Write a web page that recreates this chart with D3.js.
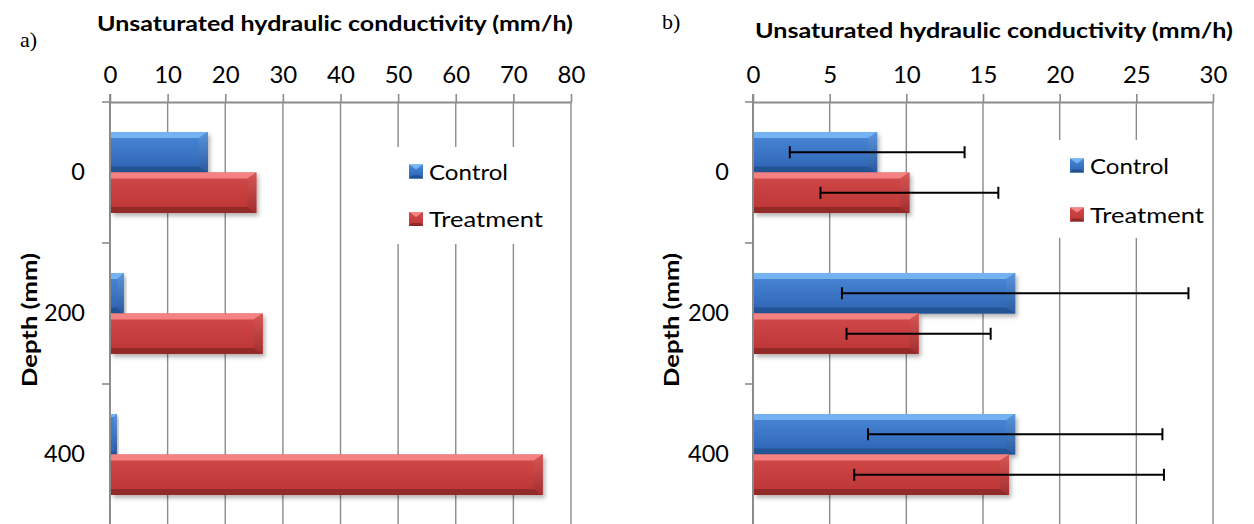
<!DOCTYPE html>
<html>
<head>
<meta charset="utf-8">
<script src="https://cdn.jsdelivr.net/npm/d3@7"></script>
<style>
  html, body { margin: 0; padding: 0; background: #ffffff; }
  svg { display: block; }
</style>
</head>
<body>
<svg id="chart" width="1254" height="524"></svg>
<script>
// ---------------- data ----------------
const categories = ["0", "200", "400"];
const seriesNames = ["Control", "Treatment"];
const aControl = [17.0, 2.4, 1.2];
const aTreatment = [25.4, 26.5, 75.1];
const bControl = [8.1, 17.1, 17.1];
const bTreatment = [10.2, 10.8, 16.7];
const bControlErr = [5.7, 11.3, 9.6];
const bTreatmentErr = [5.8, 4.7, 10.1];
const aTicks = [0, 10, 20, 30, 40, 50, 60, 70, 80];
const bTicks = [0, 5, 10, 15, 20, 25, 30];
const xTitle = "Unsaturated hydraulic conductivity (mm/h)";
const yTitle = "Depth (mm)";

// ---------------- setup ----------------
const svg = d3.select("#chart");
const W = 1254, H = 524;
const FONT = "Lato, 'Open Sans', sans-serif";
const GRID = "#8c8c8c";

const defs = svg.append("defs");
const palettes = {
  Control: { top: "#78b4f2", f0: "#4a88d8", f1: "#2d63b2", bottom: "#23508f", side0: "#5a95dc", side1: "#2a5aa0" },
  Treatment: { top: "#f68686", f0: "#d24a4a", f1: "#bb3434", bottom: "#8e2828", side0: "#d85656", side1: "#a22e2e" }
};
Object.entries(palettes).forEach(([k, p]) => {
  const g = defs.append("linearGradient").attr("id", "face-" + k)
    .attr("x1", 0).attr("y1", 0).attr("x2", 0).attr("y2", 1);
  g.append("stop").attr("offset", "0%").attr("stop-color", p.f0);
  g.append("stop").attr("offset", "100%").attr("stop-color", p.f1);
  const s = defs.append("linearGradient").attr("id", "side-" + k)
    .attr("x1", 0).attr("y1", 0).attr("x2", 0).attr("y2", 1);
  s.append("stop").attr("offset", "0%").attr("stop-color", p.side0);
  s.append("stop").attr("offset", "100%").attr("stop-color", p.side1);
});
const f = defs.append("filter").attr("id", "shadow")
  .attr("x", "-10%").attr("y", "-20%").attr("width", "130%").attr("height", "160%");
f.append("feDropShadow").attr("dx", 2).attr("dy", 3).attr("stdDeviation", 2.2)
  .attr("flood-color", "#000").attr("flood-opacity", 0.3);

function bevelBar(g, x0, x1, y0, y1, key) {
  const p = palettes[key];
  const w = x1 - x0, h = y1 - y0;
  const b = Math.max(0, Math.min(6, w / 2, h / 3));
  const bs = Math.max(0, Math.min(9, w / 2));
  const grp = g.append("g").attr("filter", "url(#shadow)");
  grp.append("rect").attr("x", x0).attr("y", y0).attr("width", w).attr("height", h)
    .attr("fill", "url(#face-" + key + ")");
  grp.append("path").attr("fill", p.top).attr("opacity", 0.95)
    .attr("d", `M${x0},${y0}L${x1},${y0}L${x1 - bs},${y0 + b}L${x0},${y0 + b}Z`);
  grp.append("path").attr("fill", p.bottom).attr("opacity", 0.9)
    .attr("d", `M${x0},${y1}L${x1},${y1}L${x1 - bs},${y1 - b}L${x0},${y1 - b}Z`);
  grp.append("path").attr("fill", "url(#side-" + key + ")")
    .attr("d", `M${x1},${y0}L${x1},${y1}L${x1 - bs},${y1 - b}L${x1 - bs},${y0 + b}Z`);
}

function panel(cfg) {
  const g = svg.append("g");
  const x = d3.scaleLinear().domain([cfg.ticks[0], cfg.ticks[cfg.ticks.length - 1]])
    .range([cfg.left, cfg.right]);
  const y = d3.scaleBand().domain(categories).range([cfg.top, cfg.top + 423]).padding(0);
  const ys = d3.scaleBand().domain(seriesNames).range([0, y.bandwidth()])
    .paddingInner(0).paddingOuter(0.74);

  // gridlines
  g.append("g").selectAll("line").data(cfg.ticks.slice(1)).join("line")
    .attr("x1", d => x(d)).attr("x2", d => x(d))
    .attr("y1", cfg.top).attr("y2", H)
    .attr("stroke", GRID).attr("stroke-width", 1.4);

  // legend box (white background hides gridlines)
  const lg = g.append("g");
  lg.append("rect").attr("x", cfg.legend.x0).attr("y", cfg.legend.y0)
    .attr("width", cfg.legend.x1 - cfg.legend.x0).attr("height", cfg.legend.y1 - cfg.legend.y0)
    .attr("fill", "#ffffff");

  // category boundary ticks
  const bounds = categories.map(c => y(c)).concat([y(categories[categories.length - 1]) + y.bandwidth()]);
  g.append("g").selectAll("line").data(bounds).join("line")
    .attr("x1", cfg.left - 8).attr("x2", cfg.left)
    .attr("y1", d => d).attr("y2", d => d)
    .attr("stroke", GRID).attr("stroke-width", 1.6);

  // top axis
  const ax = g.append("g").attr("transform", `translate(0,${cfg.top})`)
    .call(d3.axisTop(x).tickValues(cfg.ticks).tickSize(8).tickPadding(11).tickSizeOuter(0));
  ax.select(".domain").attr("stroke", GRID).attr("stroke-width", 2);
  ax.selectAll(".tick line").attr("stroke", GRID).attr("stroke-width", 1.6);
  ax.selectAll(".tick text").attr("font-family", FONT).attr("font-size", 24).attr("fill", "#000");

  // left axis (labels)
  const ay = g.append("g").attr("transform", `translate(${cfg.left},0)`)
    .call(d3.axisLeft(y).tickSize(0).tickPadding(cfg.labelPad));
  ay.select(".domain").remove();
  ay.selectAll(".tick text").attr("font-family", FONT).attr("font-size", 23.5).attr("fill", "#000");
  g.append("line").attr("x1", cfg.left).attr("x2", cfg.left)
    .attr("y1", cfg.top - 8).attr("y2", H).attr("stroke", GRID).attr("stroke-width", 2);

  // bars
  const bars = g.append("g");
  cfg.series.forEach((vals, si) => {
    const key = seriesNames[si];
    vals.forEach((v, ci) => {
      const y0 = y(categories[ci]) + ys(key);
      bevelBar(bars, x(0) + 1, x(v), y0, y0 + ys.bandwidth(), key);
    });
  });

  // error bars
  if (cfg.errors) {
    const eg = g.append("g");
    cfg.errors.forEach((errs, si) => {
      const key = seriesNames[si];
      errs.forEach((e, ci) => {
        const v = cfg.series[si][ci];
        const yc = y(categories[ci]) + ys(key) + ys.bandwidth() / 2;
        const xl = x(v - e), xr = x(v + e);
        eg.append("line").attr("x1", xl).attr("x2", xr).attr("y1", yc).attr("y2", yc)
          .attr("stroke", "#000").attr("stroke-width", 2);
        [xl, xr].forEach(xx => eg.append("line").attr("x1", xx).attr("x2", xx)
          .attr("y1", yc - 6).attr("y2", yc + 6).attr("stroke", "#000").attr("stroke-width", 2));
      });
    });
  }

  // legend entries
  seriesNames.forEach((name, i) => {
    const cy = cfg.legend.rows[i];
    bevelBarLegend(lg, cfg.legend.mx, cy, name);
    lg.append("text").attr("x", cfg.legend.tx).attr("y", cy + 8)
      .attr("font-family", FONT).attr("font-size", 22).attr("fill", "#000")
      .attr("textLength", cfg.legend.widths[i]).attr("lengthAdjust", "spacingAndGlyphs")
      .text(name);
  });

  // titles
  g.append("text").attr("x", cfg.titleX).attr("y", cfg.titleY).attr("text-anchor", "middle")
    .attr("font-family", FONT).attr("font-weight", "bold").attr("font-size", 21.5)
    .attr("textLength", cfg.titleW).attr("lengthAdjust", "spacingAndGlyphs")
    .text(xTitle);
  g.append("text").attr("transform", `translate(${cfg.yTitleX},${cfg.yTitleY}) rotate(-90)`)
    .attr("text-anchor", "middle")
    .attr("font-family", FONT).attr("font-weight", "bold").attr("font-size", 21.5)
    .attr("textLength", 134).attr("lengthAdjust", "spacingAndGlyphs")
    .text(yTitle);
  g.append("text").attr("x", cfg.tag.x).attr("y", cfg.tag.y)
    .attr("font-family", "'Liberation Serif', 'Times New Roman', serif").attr("font-size", 22)
    .text(cfg.tag.t);
}

function bevelBarLegend(g, x0, cy, key) {
  const s = 14;
  bevelBarSmall(g, x0, x0 + s, cy - s / 2, cy + s / 2, key);
}
function bevelBarSmall(g, x0, x1, y0, y1, key) {
  const p = palettes[key];
  const grp = g.append("g");
  grp.append("rect").attr("x", x0).attr("y", y0).attr("width", x1 - x0).attr("height", y1 - y0)
    .attr("fill", "url(#face-" + key + ")");
  const b = 3;
  grp.append("path").attr("fill", p.top)
    .attr("d", `M${x0},${y0}L${x1},${y0}L${(x0 + x1) / 2},${y0 + 5}Z`);
  grp.append("path").attr("fill", p.bottom)
    .attr("d", `M${x0},${y1}L${x1},${y1}L${x1 - b},${y1 - b}L${x0 + b},${y1 - b}Z`);
}

panel({
  left: 110, right: 571, top: 102, ticks: aTicks, labelPad: 25,
  series: [aControl, aTreatment], errors: null,
  legend: { x0: 392, x1: 562, y0: 147, y1: 244, mx: 409, tx: 429, rows: [171.5, 219], widths: [79, 114] },
  titleX: 335, titleY: 31, titleW: 476, yTitleX: 37, yTitleY: 320,
  tag: { x: 20, y: 47, t: "a)" }
});
panel({
  left: 753, right: 1213, top: 102, ticks: bTicks, labelPad: 24,
  series: [bControl, bTreatment], errors: [bControlErr, bTreatmentErr],
  legend: { x0: 1052, x1: 1211, y0: 140, y1: 238, mx: 1070, tx: 1090, rows: [165.5, 214.5], widths: [79, 114] },
  titleX: 994, titleY: 38, titleW: 478, yTitleX: 679, yTitleY: 320,
  tag: { x: 662, y: 29, t: "b)" }
});
</script>
</body>
</html>
